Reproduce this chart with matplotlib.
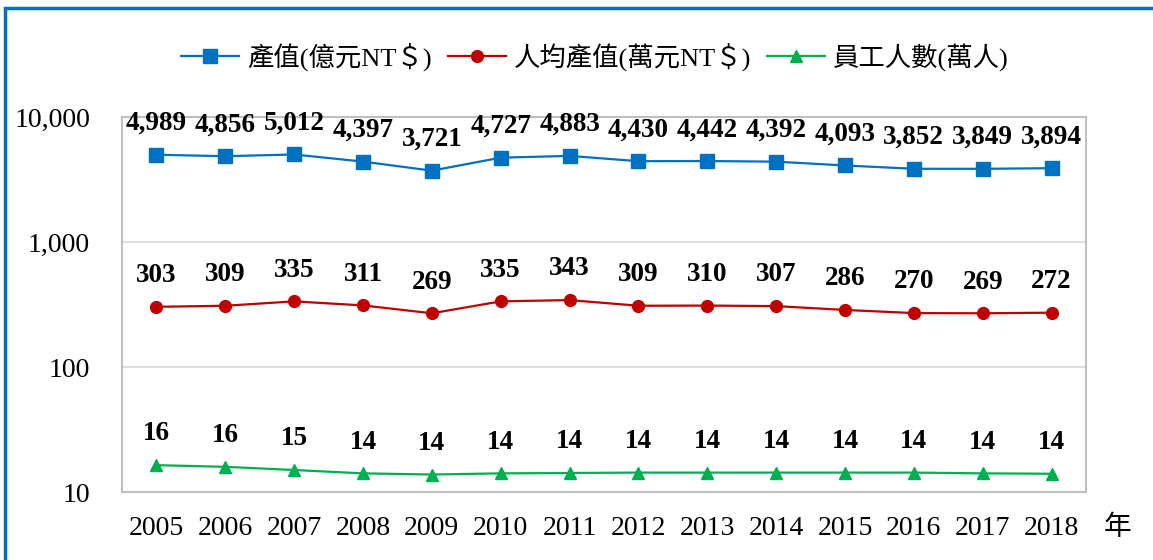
# Taiwan industry output, per-capita output and employees, 2005-2018 (log scale)

import matplotlib.pyplot as plt
from matplotlib.patches import Rectangle
from matplotlib.ticker import FixedLocator, FuncFormatter

plt.rcParams["font.family"] = ["Liberation Serif", "Noto Sans CJK TC"]

years = ["2005", "2006", "2007", "2008", "2009", "2010", "2011",
         "2012", "2013", "2014", "2015", "2016", "2017", "2018"]
output = [4989, 4856, 5012, 4397, 3721, 4727, 4883, 4430, 4442, 4392, 4093, 3852, 3849, 3894]
per_capita = [303, 309, 335, 311, 269, 335, 343, 309, 310, 307, 286, 270, 269, 272]
employees = [16.4, 15.9, 15.0, 14.1, 13.8, 14.1, 14.2, 14.3, 14.3, 14.3, 14.3, 14.3, 14.1, 14.0]

series = [
    (output, "產值(億元NT＄)", "#0070C0", "s", 9.5),
    (per_capita, "人均產值(萬元NT＄)", "#C00000", "o", 8.5),
    (employees, "員工人數(萬人)", "#00B050", "^", 9),
]

fig = plt.figure(figsize=(11.53, 5.6), dpi=100)
ax = fig.add_axes([0.1058, 0.1214, 0.8361, 0.6697])

x = list(range(len(years)))
for vals, name, color, marker, ms in series:
    ax.plot(x, vals, color=color, lw=1.6, marker=marker, ms=ms, label=name, zorder=3)
    for xi, v in zip(x, vals):
        ax.annotate("{:,}".format(round(v)), (xi, v), xytext=(0, 22.5),
                    textcoords="offset points", ha="center", va="center",
                    fontsize=19.5, fontweight="bold", family="Liberation Serif")

ax.set_yscale("log")
ax.set_ylim(10, 10000)
ax.set_xlim(-0.5, len(years) - 0.5)
ax.yaxis.set_major_locator(FixedLocator([10, 100, 1000, 10000]))
ax.yaxis.set_minor_locator(FixedLocator([]))
ax.yaxis.set_major_formatter(FuncFormatter(lambda v, p: "{:,}".format(int(v))))
ax.set_xticks(x)
ax.set_xticklabels(years)
ax.tick_params(axis="y", length=0, pad=23, labelsize=20)
ax.tick_params(axis="x", length=0, pad=17, labelsize=20)
ax.grid(axis="y", color="#D9D9D9", lw=1.2)
ax.set_axisbelow(True)
for s in ax.spines.values():
    s.set_color("#BFBFBF")
    s.set_linewidth(1.5)

fig.text(1118 / 1153, 1 - 527 / 560, "年", fontsize=20, ha="center", va="center",
         family="Noto Sans CJK TC")

fig.legend(loc="center", bbox_to_anchor=(0.516, 0.899), ncol=3, frameon=False,
           fontsize=19, handlelength=2.2, handletextpad=0.3, columnspacing=0.6)

# blue frame around the chart (only top and left edges are visible)
fig.patches.append(Rectangle((5 / 1153, -0.1), 1.2, 1 - 8 / 560 + 0.1,
                             transform=fig.transFigure, fill=False,
                             edgecolor="#0070C0", lw=2.5))

fig.savefig("out.png", dpi=100)
